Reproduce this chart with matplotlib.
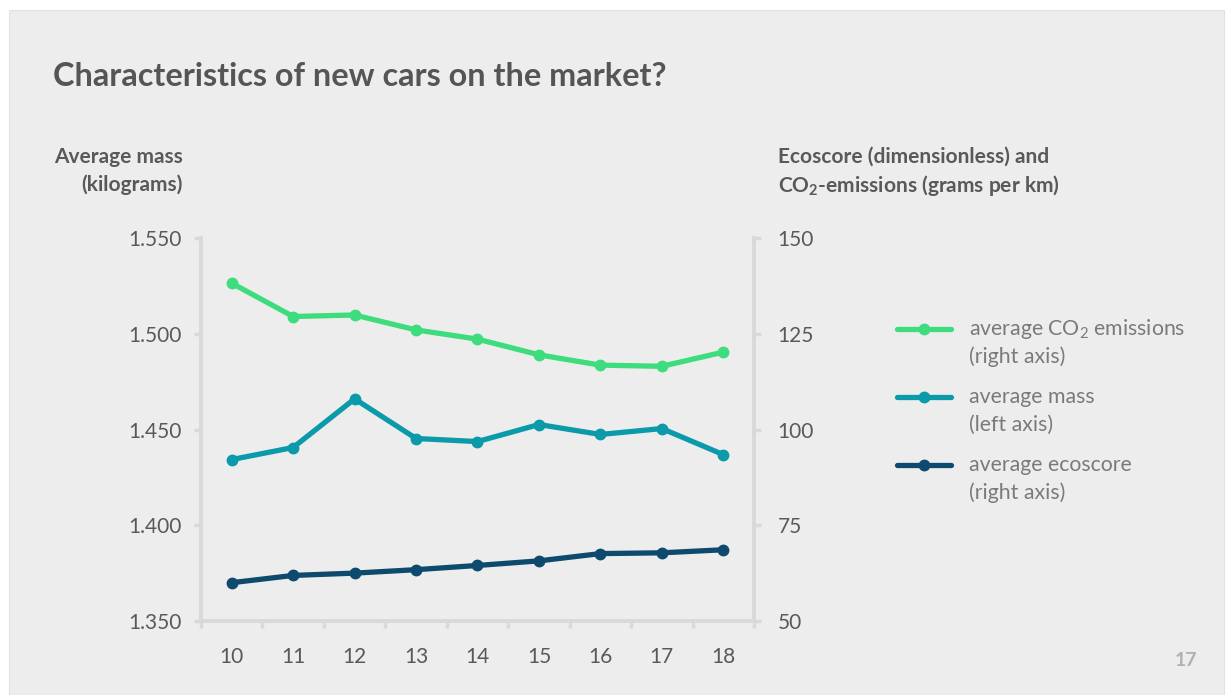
import matplotlib
matplotlib.use("Agg")
import matplotlib.pyplot as plt
from matplotlib.patches import Rectangle
from matplotlib.lines import Line2D

# ---- data ----
years = ["10", "11", "12", "13", "14", "15", "16", "17", "18"]
co2_emissions = [138.2, 129.5, 129.9, 126.0, 123.6, 119.5, 116.8, 116.5, 120.2]
avg_mass = [1434.3, 1440.6, 1466.0, 1445.3, 1443.7, 1452.6, 1447.4, 1450.5, 1436.9]
ecoscore = [60.0, 61.9, 62.5, 63.4, 64.5, 65.7, 67.6, 67.8, 68.6]

left_ticks = [1350, 1400, 1450, 1500, 1550]
right_ticks = [50, 75, 100, 125, 150]

# ---- style ----
FONT = "Lato"
plt.rcParams["font.family"] = [FONT, "DejaVu Sans"]
plt.rcParams["mathtext.fontset"] = "custom"
plt.rcParams["mathtext.rm"] = FONT
plt.rcParams["mathtext.it"] = FONT
plt.rcParams["mathtext.bf"] = FONT + ":bold"

BG = "#ededed"
AXIS = "#d9d9d9"
TXT = "#595959"
C_CO2 = "#3ddc7c"
C_MASS = "#0a9aaa"
C_ECO = "#0e4a6e"

W, H = 1226, 695
fig = plt.figure(figsize=(W / 100, H / 100), dpi=100, facecolor="white")
fig.patches.append(Rectangle((9 / W, 0), (1224 - 9) / W, (H - 10) / H,
                             transform=fig.transFigure, facecolor=BG,
                             edgecolor="#e2e2e2", linewidth=0.8, zorder=-10))

ax = fig.add_axes([201 / W, 1 - 621 / H, (754 - 201) / W, (621 - 238) / H])
ax.set_facecolor("none")
ax2 = ax.twinx()
ax2.set_facecolor("none")

x = list(range(len(years)))
lw, ms = 3.8, 7.5

ax.plot(x, avg_mass, color=C_MASS, lw=lw, marker="o", ms=ms,
        solid_capstyle="round", zorder=3)
ax2.plot(x, co2_emissions, color=C_CO2, lw=lw, marker="o", ms=ms,
         solid_capstyle="round", zorder=3)
ax2.plot(x, ecoscore, color=C_ECO, lw=lw, marker="o", ms=ms,
         solid_capstyle="round", zorder=3)

ax.set_xlim(-0.5, len(years) - 0.5)
ax.set_ylim(1350, 1550)
ax2.set_ylim(50, 150)

ax.set_yticks(left_ticks)
ax.set_yticklabels([f"{v/1000:.3f}" for v in left_ticks])
ax2.set_yticks(right_ticks)
ax2.set_yticklabels([str(v) for v in right_ticks])

# category axis: ticks on boundaries, labels centred
ax.set_xticks([i - 0.5 for i in range(len(years) + 1)])
ax.set_xticklabels([])
ax.set_xticks(x, minor=True)
ax.set_xticklabels(years, minor=True)
ax.tick_params(axis="x", which="minor", length=0, pad=19, labelsize=15,
               labelcolor=TXT)
ax.tick_params(axis="x", which="major", length=5, width=2.5, color=AXIS,
               direction="out")

ax.tick_params(axis="y", length=5, width=2.5, color=AXIS, pad=9,
               labelsize=15, labelcolor=TXT)
ax2.tick_params(axis="y", length=5, width=2.5, color=AXIS, pad=12,
                labelsize=15, labelcolor=TXT)

for a in (ax, ax2):
    for s in a.spines.values():
        s.set_visible(False)
for name in ("left", "bottom"):
    ax.spines[name].set_visible(True)
    ax.spines[name].set_color(AXIS)
    ax.spines[name].set_linewidth(2.8)
ax2.spines["right"].set_visible(True)
ax2.spines["right"].set_color(AXIS)
ax2.spines["right"].set_linewidth(2.8)

# ---- texts ----
fig.text(53 / W, 1 - 77 / H, "Characteristics of new cars on the market?",
         fontsize=23.3, fontweight="bold", color="#555555", va="center",
         ha="left")
fig.text(183 / W, 1 - 171 / H, "Average mass\n(kilograms)", fontsize=15,
         fontweight="bold", color=TXT, ha="right", va="center",
         linespacing=1.45)
fig.text(778 / W, 1 - 157 / H, "Ecoscore (dimensionless) and", fontsize=15,
         fontweight="bold", color=TXT, ha="left", va="center")
fig.text(778 / W, 1 - 186 / H, r"CO$_\mathbf{2}$-emissions (grams per km)",
         fontsize=15, fontweight="bold", color=TXT, ha="left", va="center")
fig.text(1186 / W, 1 - 661 / H, "17", fontsize=14, fontweight="bold",
         color="#b0b0b0", ha="center", va="center")

# ---- legend ----
entries = [
    (C_CO2, r"average CO$_2$ emissions", "(right axis)", 329),
    (C_MASS, "average mass", "(left axis)", 397),
    (C_ECO, "average ecoscore", "(right axis)", 465),
]
for color, l1, l2, ypx in entries:
    yy = 1 - ypx / H
    fig.add_artist(Line2D([897 / W, 951 / W], [yy, yy], color=color, lw=lw,
                          solid_capstyle="round", transform=fig.transFigure))
    fig.add_artist(Line2D([924 / W], [yy], color=color, marker="o", ms=ms,
                          transform=fig.transFigure))
    fig.text(969 / W, yy, l1, fontsize=15.3, color="#7a7a7a", ha="left",
             va="center")
    fig.text(969 / W, 1 - (ypx + 28) / H, l2, fontsize=15.3, color="#7a7a7a",
             ha="left", va="center")

fig.savefig("out.png", dpi=100, facecolor="white")
